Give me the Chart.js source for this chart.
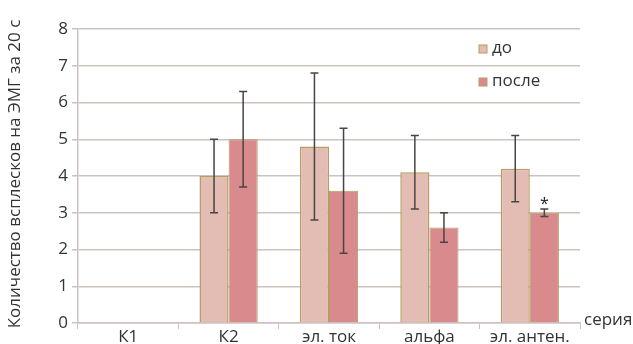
<!DOCTYPE html>
<html><head><meta charset="utf-8">
<script src="https://cdn.jsdelivr.net/npm/chart.js@4/dist/chart.umd.min.js"></script>
<style>html,body{margin:0;padding:0;background:#fff}#w{width:633px;height:344px}</style>
</head><body><div id="w"><canvas id="c"></canvas></div>
<script>
const categories = ["К1", "К2", "эл. ток", "альфа", "эл. антен."];
const seriesNames = ["до", "после"];
const beforeValues = [null, 4.0, 4.8, 4.1, 4.2];
const afterValues = [null, 5.0, 3.6, 2.6, 3.0];
const beforeLow = [null, 3.0, 2.8, 3.1, 3.3];
const beforeHigh = [null, 5.0, 6.8, 5.1, 5.1];
const afterLow = [null, 3.7, 1.9, 2.2, 2.9];
const afterHigh = [null, 6.3, 5.3, 3.0, 3.1];
const significant = [false, false, false, false, true];
const yTicks = [0, 1, 2, 3, 4, 5, 6, 7, 8];
const yTitle = "Количество всплесков на ЭМГ за 20 с";
const xTitle = "серия";

const FONT = "'Open Sans', 'Noto Sans', sans-serif";
const colBefore = "#e3bdb3", colAfter = "#d98a8d", colBorder = "#b59e62", gridCol = "#cdc2bf", txt = "#333";

const extras = {
  id: "extras",
  afterDatasetsDraw(chart) {
    const ctx = chart.ctx, y = chart.scales.y;
    const sets = [[beforeLow, beforeHigh], [afterLow, afterHigh]];
    ctx.save();
    ctx.strokeStyle = "#4a4444"; ctx.lineWidth = 1.5;
    sets.forEach((s, di) => {
      const meta = chart.getDatasetMeta(di);
      meta.data.forEach((bar, i) => {
        if (s[0][i] == null) return;
        const x = bar.x, y1 = y.getPixelForValue(s[0][i]), y2 = y.getPixelForValue(s[1][i]);
        ctx.beginPath();
        ctx.moveTo(x, y1); ctx.lineTo(x, y2);
        ctx.moveTo(x - 4, y1); ctx.lineTo(x + 4, y1);
        ctx.moveTo(x - 4, y2); ctx.lineTo(x + 4, y2);
        ctx.stroke();
        if (di === 1 && significant[i]) {
          ctx.fillStyle = "#222"; ctx.font = "16px " + FONT;
          ctx.textAlign = "center"; ctx.textBaseline = "middle";
          ctx.fillText("*", x, y2 - 5);
        }
      });
    });
    // legend
    ctx.font = "17px " + FONT; ctx.textAlign = "left"; ctx.textBaseline = "middle";
    [[colBefore, 49], [colAfter, 82]].forEach((c, k) => {
      ctx.fillStyle = c[0]; ctx.fillRect(479, c[1] - 4, 8, 8);
      ctx.strokeStyle = colBorder; ctx.lineWidth = 1; ctx.strokeRect(479, c[1] - 4, 8, 8);
      ctx.fillStyle = txt; ctx.fillText(seriesNames[k], 492, c[1] - 1);
    });
    // x title
    ctx.fillText(xTitle, 584, 320);
    // y title
    ctx.translate(15, 174); ctx.rotate(-Math.PI / 2);
    ctx.textAlign = "center"; ctx.fillText(yTitle, 0, 0);
    ctx.restore();
  }
};

new Chart(document.getElementById("c"), {
  type: "bar",
  data: {
    labels: categories,
    datasets: [
      { label: seriesNames[0], data: beforeValues, backgroundColor: colBefore, borderColor: colBorder, borderWidth: 1.5 },
      { label: seriesNames[1], data: afterValues, backgroundColor: colAfter, borderColor: colBorder, borderWidth: 1 }
    ]
  },
  options: {
    responsive: true, maintainAspectRatio: false, animation: false,
    layout: { padding: { left: 0, right: 53, top: 29, bottom: 0 } },
    plugins: { legend: { display: false }, tooltip: { enabled: false } },
    datasets: { bar: { categoryPercentage: 0.58, barPercentage: 1.0 } },
    scales: {
      x: {
        grid: { drawOnChartArea: false, color: gridCol, tickLength: 6, lineWidth: 1 },
        border: { color: gridCol, width: 1.5 },
        ticks: { color: txt, font: { family: FONT, size: 17 }, padding: -2, maxRotation: 0 },
        afterFit: s => { s.height = 21; }
      },
      y: {
        min: 0, max: 8,
        afterBuildTicks: s => { s.ticks = yTicks.map(v => ({ value: v })); },
        grid: { color: gridCol, lineWidth: 1.5, tickLength: 6 },
        border: { color: gridCol, width: 1.5 },
        ticks: { color: txt, font: { family: FONT, size: 17 }, padding: 4 },
        afterFit: s => { s.width = 78; }
      }
    }
  },
  plugins: [extras]
});
</script>
</body></html>
